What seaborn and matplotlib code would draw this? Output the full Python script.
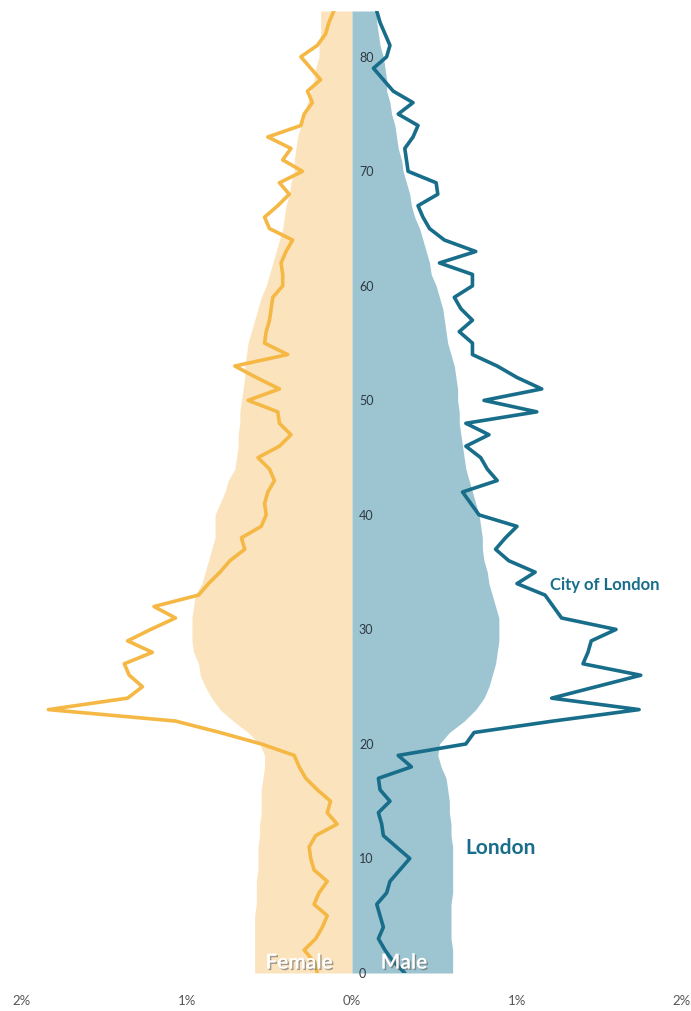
import numpy as np
import pandas as pd
import matplotlib
matplotlib.use("Agg")
import matplotlib.pyplot as plt
import matplotlib.patheffects as pe
import seaborn as sns

# ages 0..84, values in % of total population
ages = list(range(85))

london_female = [
    0.59, 0.59, 0.59, 0.59, 0.59, 0.59, 0.58, 0.58, 0.58, 0.57,
    0.57, 0.57, 0.56, 0.56, 0.55, 0.55, 0.55, 0.54, 0.53, 0.53,
    0.56, 0.63, 0.72, 0.80, 0.85, 0.89, 0.92, 0.93, 0.96, 0.97,
    0.97, 0.97, 0.96, 0.95, 0.91, 0.89, 0.87, 0.85, 0.83, 0.83,
    0.83, 0.80, 0.77, 0.75, 0.71, 0.70, 0.69, 0.69, 0.68, 0.68,
    0.67, 0.66, 0.65, 0.65, 0.64, 0.63, 0.61, 0.59, 0.57, 0.55,
    0.52, 0.50, 0.48, 0.46, 0.44, 0.42, 0.41, 0.40, 0.38, 0.37,
    0.35, 0.35, 0.34, 0.33, 0.31, 0.29, 0.27, 0.25, 0.23, 0.22,
    0.20, 0.20, 0.19, 0.19, 0.19,
]
london_male = [
    0.61, 0.61, 0.61, 0.60, 0.60, 0.60, 0.60, 0.61, 0.61, 0.61,
    0.61, 0.61, 0.60, 0.60, 0.59, 0.59, 0.58, 0.57, 0.54, 0.52,
    0.53, 0.59, 0.68, 0.75, 0.80, 0.83, 0.85, 0.87, 0.88, 0.89,
    0.89, 0.89, 0.87, 0.85, 0.83, 0.82, 0.80, 0.79, 0.79, 0.78,
    0.77, 0.75, 0.73, 0.71, 0.69, 0.68, 0.67, 0.66, 0.65, 0.65,
    0.64, 0.64, 0.63, 0.62, 0.60, 0.58, 0.57, 0.56, 0.55, 0.53,
    0.51, 0.48, 0.47, 0.45, 0.43, 0.41, 0.38, 0.36, 0.35, 0.33,
    0.31, 0.30, 0.28, 0.27, 0.26, 0.24, 0.23, 0.21, 0.21, 0.20,
    0.19, 0.17, 0.16, 0.15, 0.15,
]
city_female = [
    0.21, 0.23, 0.29, 0.22, 0.18, 0.15, 0.23, 0.20, 0.15, 0.23,
    0.25, 0.26, 0.22, 0.09, 0.15, 0.13, 0.21, 0.28, 0.32, 0.35,
    0.55, 0.80, 1.07, 1.84, 1.36, 1.27, 1.35, 1.38, 1.21, 1.36,
    1.22, 1.07, 1.20, 0.93, 0.87, 0.80, 0.74, 0.65, 0.67, 0.55,
    0.52, 0.53, 0.51, 0.47, 0.50, 0.57, 0.44, 0.37, 0.44, 0.45,
    0.63, 0.44, 0.58, 0.71, 0.39, 0.53, 0.52, 0.50, 0.49, 0.48,
    0.42, 0.42, 0.43, 0.40, 0.36, 0.50, 0.53, 0.45, 0.38, 0.44,
    0.30, 0.42, 0.37, 0.51, 0.31, 0.29, 0.24, 0.27, 0.19, 0.25,
    0.31, 0.21, 0.16, 0.14, 0.11,
]
city_male = [
    0.32, 0.25, 0.20, 0.16, 0.19, 0.17, 0.15, 0.21, 0.23, 0.29,
    0.35, 0.27, 0.19, 0.18, 0.16, 0.23, 0.17, 0.16, 0.36, 0.28,
    0.69, 0.74, 1.22, 1.74, 1.21, 1.48, 1.75, 1.40, 1.43, 1.45,
    1.60, 1.27, 1.22, 1.17, 1.00, 1.11, 0.95, 0.87, 0.93, 1.00,
    0.77, 0.72, 0.67, 0.88, 0.82, 0.78, 0.69, 0.83, 0.69, 1.12,
    0.80, 1.15, 1.00, 0.88, 0.73, 0.73, 0.65, 0.73, 0.66, 0.62,
    0.73, 0.73, 0.53, 0.75, 0.56, 0.47, 0.43, 0.40, 0.52, 0.51,
    0.34, 0.33, 0.32, 0.37, 0.40, 0.28, 0.37, 0.25, 0.19, 0.13,
    0.21, 0.23, 0.20, 0.17, 0.15,
]

age_ticks = [0, 10, 20, 30, 40, 50, 60, 70, 80]
x_ticks = [-2, -1, 0, 1, 2]
x_labels = ["2%", "1%", "0%", "1%", "2%"]

FEMALE_FILL = "#fbe4bd"
MALE_FILL = "#9dc4d1"
FEMALE_LINE = "#f5b845"
MALE_LINE = "#186e8a"

sns.set_theme(style="white")
plt.rcParams["font.family"] = ["Lato", "DejaVu Sans"]

fig = plt.figure(figsize=(6.91, 10.11), dpi=100)
ax = fig.add_axes([22 / 691, 38 / 1011, 660 / 691, 962 / 1011])

# London, filled pyramid
fem = -np.array(london_female)
ax.fill_betweenx(ages, fem, 0, color=FEMALE_FILL, lw=0, zorder=1)
ax.fill_betweenx(ages, 0, london_male, color=MALE_FILL, lw=0, zorder=1)

# City of London, lines
df_f = pd.DataFrame({"age": ages, "pct": -np.array(city_female)})
df_m = pd.DataFrame({"age": ages, "pct": city_male})
sns.lineplot(data=df_f, x="pct", y="age", orient="y", color=FEMALE_LINE,
             lw=2.6, ax=ax, zorder=3)
sns.lineplot(data=df_m, x="pct", y="age", orient="y", color=MALE_LINE,
             lw=2.6, ax=ax, zorder=3)

ax.set_xlim(-2, 2)
ax.set_ylim(0, 84)
ax.set_xlabel("")
ax.set_ylabel("")
ax.set_axisbelow(False)  # age labels must sit on top of the fills

# x ticks as percent on both sides
ax.set_xticks(x_ticks)
ax.set_xticklabels(x_labels, fontsize=9.5, color="#555555")
ax.tick_params(axis="x", length=0, pad=16)

# age labels sit just right of the centre line
ax.spines["right"].set_position(("data", 0))
ax.yaxis.set_ticks_position("right")
ax.set_yticks(age_ticks)
ax.set_yticklabels([str(a) for a in age_ticks], fontsize=9, color="#2e3a44")
ax.tick_params(axis="y", length=0, pad=5)
for s in ax.spines.values():
    s.set_color("none")

ax.text(1.2, 33.9, "City of London", color=MALE_LINE, fontsize=12,
        fontweight="bold", ha="left", va="center", zorder=4)
ax.text(0.685, 10.9, "London", color=MALE_LINE, fontsize=15,
        fontweight="bold", ha="left", va="center", zorder=4)

shadow = [pe.withSimplePatchShadow(offset=(1, -1), shadow_rgbFace="#666666", alpha=0.6)]
ax.text(-0.32, 0.9, "Female", color="white", fontsize=15, fontweight="bold",
        ha="center", va="center", zorder=4, path_effects=shadow)
ax.text(0.315, 0.9, "Male", color="white", fontsize=15, fontweight="bold",
        ha="center", va="center", zorder=4, path_effects=shadow)

fig.savefig("out.png", dpi=100)
